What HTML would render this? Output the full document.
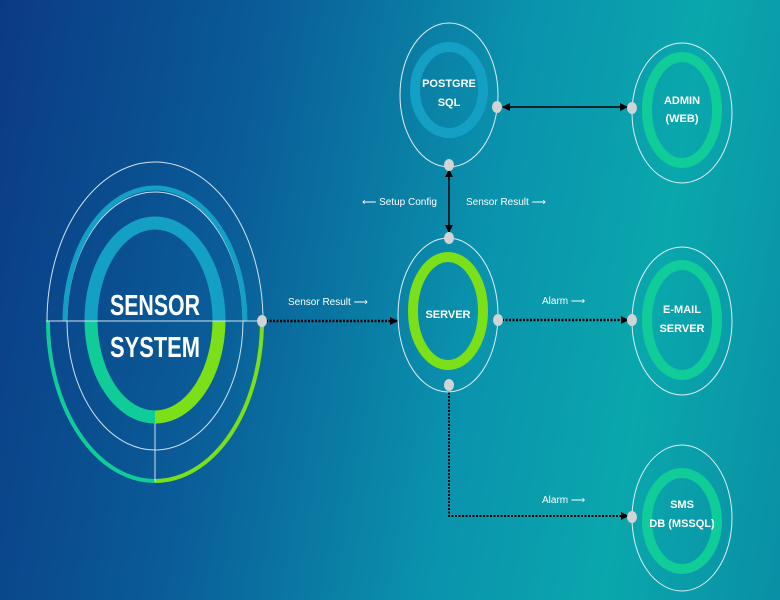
<!DOCTYPE html>
<html><head><meta charset="utf-8"><style>
html,body{margin:0;padding:0;width:780px;height:600px;overflow:hidden}
body{background:linear-gradient(100deg,#0b3a84 0%,#0a5c98 30%,#0a93ad 60%,#0aa7ad 80%,#0a8fa5 100%)}
svg{position:absolute;left:0;top:0}
text{font-family:"Liberation Sans",sans-serif;fill:#fff}
</style></head><body>
<svg width="780" height="600" viewBox="0 0 780 600">
<defs>
<marker id="ah" markerWidth="8" markerHeight="8" refX="7" refY="4" orient="auto-start-reverse" markerUnits="userSpaceOnUse"><path d="M0,0 L8,4 L0,8 z" fill="#000"/></marker>
<clipPath id="top"><rect x="0" y="0" width="780" height="321"/></clipPath>
<clipPath id="bl"><rect x="0" y="321" width="155" height="300"/></clipPath>
<clipPath id="br"><rect x="155" y="321" width="200" height="300"/></clipPath>
</defs>
<g fill="none">
<ellipse cx="155" cy="321" rx="108" ry="159" stroke="#cfe3ef" stroke-width="1"/>
<ellipse cx="155" cy="321" rx="88" ry="129" stroke="#cfe3ef" stroke-width="1"/>
<ellipse cx="155" cy="321" rx="90" ry="133" stroke="#149fc4" stroke-width="5" clip-path="url(#top)"/>
<ellipse cx="155" cy="321" rx="107" ry="160" stroke="#0fcc98" stroke-width="4" clip-path="url(#bl)"/>
<ellipse cx="155" cy="321" rx="107" ry="160" stroke="#7ce018" stroke-width="4" clip-path="url(#br)"/>
<ellipse cx="155" cy="320" rx="64" ry="97" stroke="#14a0c4" stroke-width="13" clip-path="url(#top)"/>
<ellipse cx="155" cy="320" rx="64" ry="97" stroke="#0fcc98" stroke-width="13" clip-path="url(#bl)"/>
<ellipse cx="155" cy="320" rx="64" ry="97" stroke="#7ce018" stroke-width="13" clip-path="url(#br)"/>
<line x1="46" y1="321" x2="262" y2="321" stroke="#cfe3ef" stroke-width="1"/>
<line x1="155" y1="423" x2="155" y2="482" stroke="#cfe3ef" stroke-width="1"/>
</g>
<text x="110" y="315" font-size="29" font-weight="bold" textLength="90" lengthAdjust="spacingAndGlyphs">SENSOR</text>
<text x="110" y="357" font-size="29" font-weight="bold" textLength="90" lengthAdjust="spacingAndGlyphs">SYSTEM</text>
<g fill="none" stroke="#dfeef3" stroke-width="1">
<ellipse cx="449" cy="95" rx="49" ry="72"/>
<ellipse cx="682" cy="113" rx="50" ry="70"/>
<ellipse cx="448" cy="315" rx="50" ry="77"/>
<ellipse cx="682" cy="321" rx="50" ry="74"/>
<ellipse cx="682" cy="518" rx="50" ry="73"/>
</g>
<g fill="none" stroke-width="10">
<ellipse cx="449" cy="90" rx="34" ry="43" stroke="#14a0c4"/>
<ellipse cx="682" cy="110" rx="35" ry="53" stroke="#0fcc98"/>
<ellipse cx="448" cy="311" rx="35" ry="54" stroke="#7ce018"/>
<ellipse cx="682" cy="320" rx="35" ry="55" stroke="#0fcc98"/>
<ellipse cx="682" cy="521" rx="35" ry="48" stroke="#0fcc98"/>
</g>
<g font-size="11" font-weight="bold" text-anchor="middle">
<text x="449" y="87">POSTGRE</text><text x="449" y="106">SQL</text>
<text x="682" y="104">ADMIN</text><text x="682" y="122">(WEB)</text>
<text x="448" y="318">SERVER</text>
<text x="682" y="313">E-MAIL</text><text x="682" y="332">SERVER</text>
<text x="682" y="508">SMS</text><text x="682" y="527">DB (MSSQL)</text>
</g>
<g stroke="#000" fill="none">
<line x1="503" y1="107" x2="627" y2="107" stroke-width="1.5" marker-start="url(#ah)" marker-end="url(#ah)"/>
<line x1="449" y1="170" x2="449" y2="232" stroke-width="1.5" marker-start="url(#ah)" marker-end="url(#ah)"/>
<line x1="266" y1="321" x2="397" y2="321" stroke-width="2.5" stroke-dasharray="2,1.5" marker-end="url(#ah)"/>
<line x1="502" y1="320" x2="628" y2="320" stroke-width="2.5" stroke-dasharray="2,1.5" marker-end="url(#ah)"/>
<polyline points="449,389 449,516 628,516" stroke-width="2" stroke-dasharray="2,1.5" marker-end="url(#ah)"/>
</g>
<g fill="#d0d4d6">
<ellipse cx="262" cy="321" rx="5" ry="6"/>
<ellipse cx="497" cy="107" rx="5" ry="6"/>
<ellipse cx="632" cy="108" rx="5" ry="6"/>
<ellipse cx="449" cy="165" rx="5" ry="6"/>
<ellipse cx="449" cy="238" rx="5" ry="6"/>
<ellipse cx="498" cy="320" rx="5" ry="6"/>
<ellipse cx="632" cy="320" rx="5" ry="6"/>
<ellipse cx="449" cy="385" rx="5" ry="6"/>
<ellipse cx="632" cy="517" rx="5" ry="6"/>
</g>
<g font-size="10" fill="#e8f0f2">
<text x="362" y="205">⟵ Setup Config</text>
<text x="466" y="205">Sensor Result ⟶</text>
<text x="288" y="305">Sensor Result ⟶</text>
<text x="542" y="304">Alarm ⟶</text>
<text x="542" y="503">Alarm ⟶</text>
</g>
</svg>
</body></html>
